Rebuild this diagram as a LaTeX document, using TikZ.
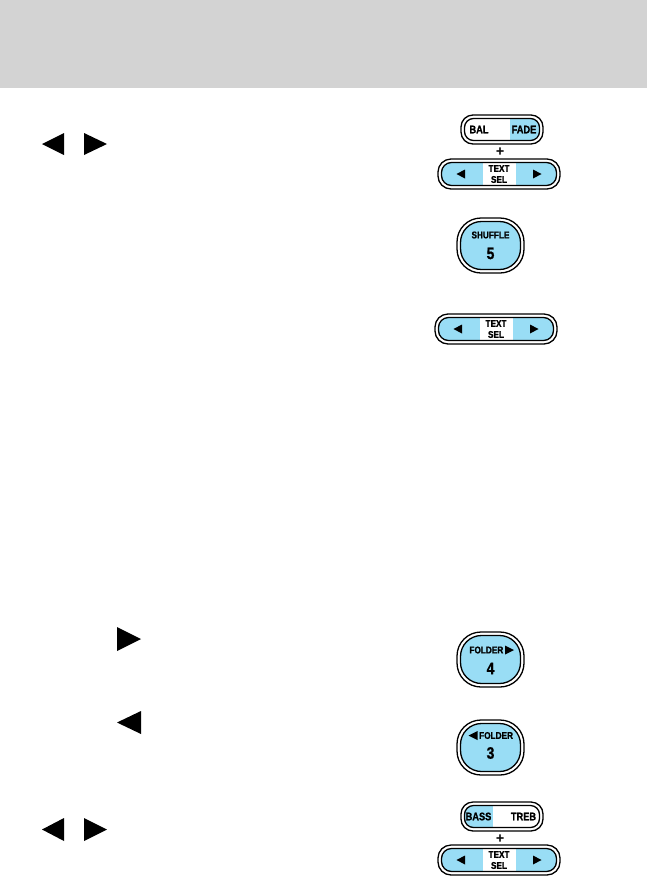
\documentclass[tikz,border=0pt]{standalone}
\usepackage{fontspec}
\newfontfamily\cond[FakeBold=1.2]{Liberation Sans}
\newcommand\cx[1]{\scalebox{0.84}[1]{#1}}
\definecolor{hdr}{RGB}{211,211,211}
\definecolor{btn}{RGB}{153,221,245}
\tikzset{
  ln/.style={draw=black,line width=1.3pt},
  lbl/.style={inner sep=0pt,font=\cond\bfseries\fontsize{9.8}{9.8}\selectfont},
  biglbl/.style={inner sep=0pt,font=\cond\bfseries\fontsize{11}{11}\selectfont},
  pluslbl/.style={inner sep=0pt,font=\cond\bfseries\fontsize{13}{13}\selectfont},
  numlbl/.style={inner sep=0pt,font=\cond\bfseries\fontsize{16.5}{16.5}\selectfont},
  tri/.style={fill=black,draw=none}
}
% bar with TEXT SEL: #1 left x, #2 top y, #3 name prefix
\newcommand\selbar[3]{%
  \draw[ln,rounded corners=13pt] (#1,#2) rectangle ++(122,30);
  \begin{scope}
    \clip[rounded corners=10pt] (#1+3.5,#2+3.5) rectangle ++(115,23);
    \fill[btn] (#1,#2) rectangle ++(122,30);
    \fill[white] (#1+44.5,#2) rectangle ++(33,30);
  \end{scope}
  \draw[ln,rounded corners=10pt] (#1+3.5,#2+3.5) rectangle ++(115,23);
  \fill[tri] (#1+18.5,#2+15) -- (#1+27,#2+10.5) -- (#1+27,#2+19.5) -- cycle;
  \fill[tri] (#1+103.5,#2+15) -- (#1+95,#2+10.5) -- (#1+95,#2+19.5) -- cycle;
  \node[lbl] (#3t) at (#1+61,#2+9.5) {\cx{TEXT}};
  \node[lbl] (#3s) at (#1+61,#2+20.5) {\cx{SEL}};
}
% round button: #1 left x, #2 top y
\newcommand\rbtn[2]{%
  \draw[ln,rounded corners=24pt] (#1,#2) rectangle ++(67,55);
  \draw[ln,fill=btn,rounded corners=21pt] (#1+3.5,#2+3.5) rectangle ++(60,48);
}
\begin{document}
\begin{tikzpicture}[x=1pt,y=-1pt]
\useasboundingbox (0,0) rectangle (647,876);
\fill[hdr] (0,0) rectangle (647,88);

% left triangles
\fill[tri] (42,144) -- (64,133) -- (64,155) -- cycle;
\fill[tri] (107,144) -- (84,133) -- (84,155) -- cycle;
\fill[tri] (141,639) -- (117,627) -- (117,651) -- cycle;
\fill[tri] (117,722.5) -- (141,711) -- (141,734) -- cycle;
\fill[tri] (42,829.5) -- (64,818) -- (64,841) -- cycle;
\fill[tri] (107,829.5) -- (84,818) -- (84,841) -- cycle;

% BAL / FADE
\draw[ln,rounded corners=12pt] (461,115) rectangle (543,144);
\begin{scope}
  \clip[rounded corners=9pt] (464.5,118.5) rectangle (539.5,140.5);
  \fill[white] (461,115) rectangle (543,144);
  \fill[btn] (510,115) rectangle (543,144);
\end{scope}
\draw[ln,rounded corners=9pt] (464.5,118.5) rectangle (539.5,140.5);
\node[biglbl] (bal) at (479,129.5) {\cx{BAL}};
\node[biglbl] (fade) at (524,129.5) {\cx{FADE}};
\node[pluslbl] (plus1) at (500,151.5) {+};
\selbar{438}{159}{sa}

% SHUFFLE 5
\rbtn{457}{218}
\node[lbl] (shuf) at (490.5,235) {\cx{SHUFFLE}};
\node[numlbl] (five) at (490.5,253.5) {\cx{5}};

% TEXT SEL alone
\selbar{435}{314}{sb}

% FOLDER > 4
\rbtn{457}{632}
\node[lbl,anchor=east] (fold4) at (503.5,650) {\cx{FOLDER}};
\fill[tri] (514,650) -- (505,645.5) -- (505,654.5) -- cycle;
\node[numlbl] (four) at (490.5,668.5) {\cx{4}};

% < FOLDER 3
\rbtn{457}{720}
\node[lbl,anchor=west] (fold3) at (479,735.5) {\cx{FOLDER}};
\fill[tri] (468.5,735.5) -- (477.5,731) -- (477.5,740) -- cycle;
\node[numlbl] (three) at (490.5,753) {\cx{3}};

% BASS / TREB
\draw[ln,rounded corners=12pt] (461,802) rectangle (543,831);
\begin{scope}
  \clip[rounded corners=9pt] (464.5,805.5) rectangle (539.5,827.5);
  \fill[white] (461,802) rectangle (543,831);
  \fill[btn] (461,802) rectangle (493,831);
\end{scope}
\draw[ln,rounded corners=9pt] (464.5,805.5) rectangle (539.5,827.5);
\node[biglbl] (bass) at (478.5,816.5) {\cx{BASS}};
\node[biglbl] (treb) at (523.5,816.5) {\cx{TREB}};
\node[pluslbl] (plus2) at (500,838.5) {+};
\selbar{438}{845}{sc}
\end{tikzpicture}
\end{document}
